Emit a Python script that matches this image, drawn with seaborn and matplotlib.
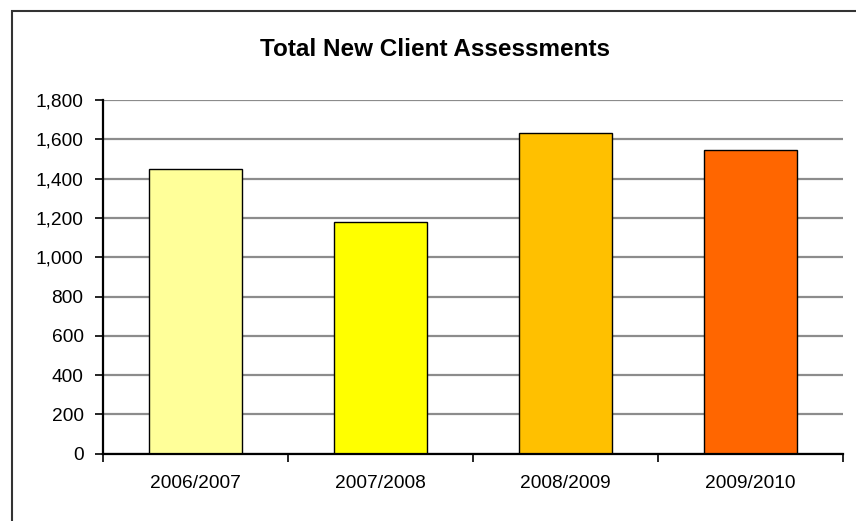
import matplotlib
matplotlib.use("Agg")
import matplotlib.pyplot as plt
from matplotlib.patches import Rectangle
from matplotlib.ticker import FuncFormatter, MultipleLocator
import seaborn as sns
import pandas as pd

years = ["2006/2007", "2007/2008", "2008/2009", "2009/2010"]
assessments = [1447, 1177, 1632, 1544]
bar_colors = ["#FFFF99", "#FFFF00", "#FFC000", "#FF6600"]

sns.set_style("white")
plt.rcParams["font.family"] = ["Liberation Sans", "DejaVu Sans"]
plt.rcParams["text.color"] = "black"
plt.rcParams["xtick.color"] = "black"
plt.rcParams["ytick.color"] = "black"

df = pd.DataFrame({"year": years, "value": assessments})

fig = plt.figure(figsize=(8.56, 5.21), dpi=100)
ax = fig.add_axes([0.1203, 0.1292, 0.8647, 0.6788])

sns.barplot(data=df, x="year", y="value", hue="year", palette=bar_colors,
            saturation=1, width=0.5, edgecolor="black", linewidth=1.0,
            legend=False, ax=ax, zorder=3)

ax.set_ylim(0, 1800)
ax.set_xlim(-0.5, 3.5)
ax.yaxis.set_major_locator(MultipleLocator(200))
ax.yaxis.set_major_formatter(FuncFormatter(lambda v, p: f"{int(v):,}"))
ax.grid(axis="y", color="#8c8c8c", linewidth=1.6, zorder=0)
ax.set_axisbelow(True)

for side in ("top", "right"):
    ax.spines[side].set_visible(False)
for side in ("left", "bottom"):
    ax.spines[side].set_color("black")
    ax.spines[side].set_linewidth(1.6)
    ax.spines[side].set_zorder(4)

ax.set_xlabel("")
ax.set_ylabel("")
ax.tick_params(axis="y", which="major", left=True, length=6, width=1.2,
               color="black", labelcolor="black", labelsize=13.8, pad=8)
ax.tick_params(axis="x", which="major", bottom=False, labelcolor="black",
               labelsize=13.8, pad=12)
ax.set_xticks([-0.5, 0.5, 1.5, 2.5, 3.5], minor=True)
ax.tick_params(axis="x", which="minor", bottom=True, length=6, width=1.2,
               color="black")

fig.text(0.508, 0.905, "Total New Client Assessments", ha="center",
         va="center", fontsize=17.5, fontweight="bold", color="black")

# outer chart frame
fig.patches.append(Rectangle((12 / 856, -0.1), 1.1, (510 / 521) + 0.1,
                             transform=fig.transFigure, fill=False,
                             edgecolor="#333333", linewidth=1.5))

fig.savefig("out.png", dpi=100)
